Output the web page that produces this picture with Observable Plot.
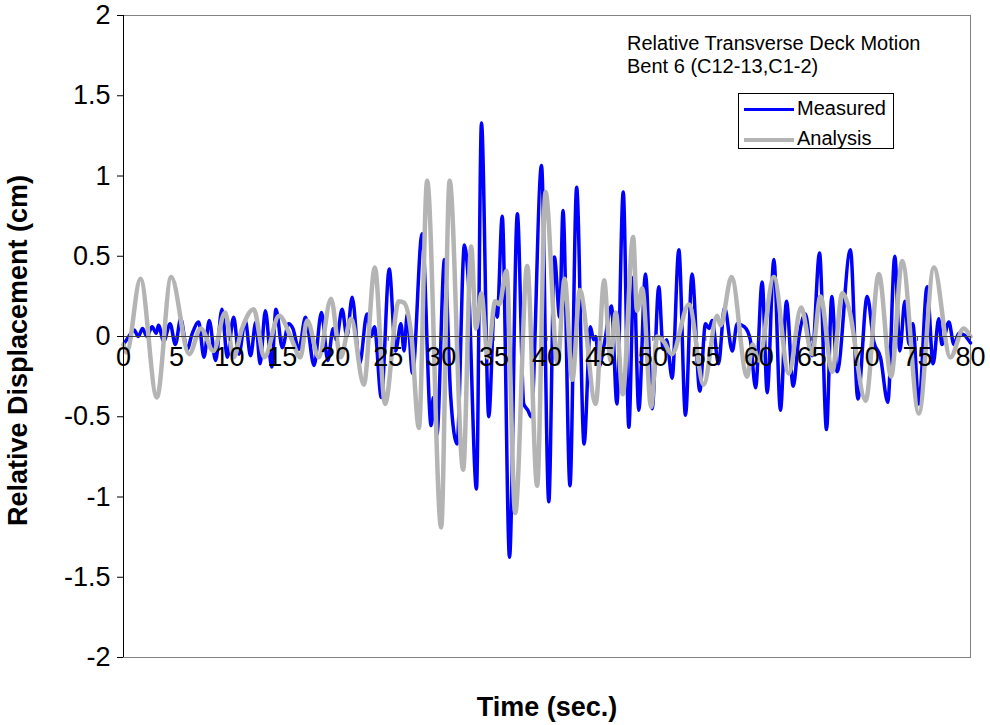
<!DOCTYPE html>
<html>
<head>
<meta charset="utf-8">
<script src="https://cdn.jsdelivr.net/npm/d3@7"></script>
<script src="https://cdn.jsdelivr.net/npm/@observablehq/plot@0.6"></script>
<style>
  html, body { margin: 0; padding: 0; background: #fff; }
  #wrap { position: relative; width: 990px; height: 725px; font-family: "Liberation Sans", Arial, sans-serif; }
  #title { position: absolute; left: 627px; top: 32px; font-size: 20px; line-height: 23px; color: #000; }
  #legend { position: absolute; left: 738px; top: 93px; width: 156px; height: 56px; border: 1px solid #000; background: #fff; box-sizing: border-box; }
  .li { position: absolute; left: 0; height: 26px; width: 154px; font-size: 20px; }
  .sw { position: absolute; left: 5px; width: 50px; top: 12px; }
  .lt { position: absolute; left: 58px; top: 1px; }
</style>
</head>
<body>
<div id="wrap">
  <div id="chart"></div>
  <div id="title">Relative Transverse Deck Motion<br>Bent 6 (C12-13,C1-2)</div>
  <div id="legend">
    <div class="li" style="top:2px"><div class="sw" style="border-top:3px solid #0000ff"></div><div class="lt">Measured</div></div>
    <div class="li" style="top:32px"><div class="sw" style="border-top:4px solid #b4b4b4"></div><div class="lt">Analysis</div></div>
  </div>
</div>
<script>
// Time (sec.) and relative displacement (cm) (peaks / troughs)
const measuredT = [0,0.5,1.0,1.4,1.8,2.2,2.7,3.1,3.3,3.8,4.4,4.9,5.4,6.0,6.5,7.1,7.6,8.1,8.7,9.3,9.8,10.4,10.9,11.5,12.0,12.5,12.9,13.4,14.0,14.4,15.0,15.6,16.0,16.56,17.19,18.0,18.7,19.3,19.8,20.1,20.65,21.1,21.6,22.3,23.0,23.4,23.7,24.35,25.1,25.7,26.2,26.5,26.8,27.3,28.2,29.06,29.25,29.6,30.32,30.9,31.5,32.2,32.55,33.34,33.81,34.5,35.05,35.3,35.77,36.46,37.2,37.8,38.2,38.5,39.48,40.17,40.7,41.2,41.51,42.17,42.8,43.5,44.1,44.4,44.6,44.9,45.4,46.09,46.6,47.2,47.73,48.2,48.67,49.3,49.93,50.56,50.97,51.3,51.82,52.45,53.08,53.7,54.43,54.97,55.3,55.6,56.2,56.77,57.5,57.96,58.65,59.2,59.7,60.32,60.8,61.43,62.05,62.62,63.25,63.8,64.4,65.04,65.74,66.4,66.9,67.4,68.66,69.36,70.24,70.86,71.5,72.19,72.85,73.33,73.8,74.2,74.55,75.12,75.9,76.47,77.0,77.3,77.96,78.43,78.9,79.4,80];
const measuredV = [-0.05,0.0,0.04,0.0,0.05,0.0,0.06,0.02,0.07,-0.03,0.08,-0.05,0.11,-0.08,0.02,0.09,-0.13,0.1,-0.15,0.17,-0.13,0.12,-0.11,0.1,-0.12,0.09,-0.17,0.16,-0.19,0.17,-0.07,0.08,0.05,-0.08,0.12,-0.18,0.15,-0.15,0.05,-0.02,0.17,0.0,0.245,-0.17,0.14,0.0,0.06,-0.38,0.42,-0.09,0.08,-0.09,0.14,-0.23,0.64,-0.555,-0.38,-0.61,0.48,-0.37,-0.67,0.57,0.37,-0.95,1.33,-0.5,0.2,0.12,0.75,-1.375,0.765,-0.42,-0.46,-0.5,1.066,-1.03,0.495,0.12,0.785,-0.93,0.93,-0.67,0.06,-0.02,0.0,-0.19,-0.05,0.19,-0.42,0.9,-0.565,0.37,-0.46,0.39,-0.45,0.31,-0.08,-0.02,-0.26,0.54,-0.49,0.39,-0.34,0.08,0.05,0.1,-0.17,0.18,-0.09,0.08,0.06,-0.02,-0.32,0.34,-0.35,0.48,-0.46,0.22,-0.31,0.0,0.14,-0.12,0.52,-0.58,0.25,-0.22,0.54,-0.39,0.25,-0.03,-0.13,-0.41,0.5,-0.09,0.22,-0.05,0.08,-0.42,0.31,-0.17,0.11,-0.05,0.09,-0.05,0.02,0.01,-0.04];

const analysisT = [0,0.3,1.6,3.15,4.5,6.2,7.3,8.5,9.6,10.4,11.2,12.3,13.3,14.7,15.9,16.7,17.35,18.45,19.6,20.5,21.5,22.7,23.74,24.7,26.0,26.5,27.2,27.9,28.68,30.0,30.8,32.08,32.84,33.3,33.8,34.4,35.1,35.5,36.17,37.0,38.13,39.07,39.86,41.0,41.66,42.4,43.1,44.6,45.4,46.0,46.5,47.15,48.14,48.5,49.0,49.84,50.4,51.0,51.8,53.4,54.8,56.07,56.4,57.43,58.9,59.4,60.0,61.43,62.84,64.0,65.04,65.83,66.94,67.9,68.5,70.1,71.34,72.5,73.55,75.12,76.54,78.1,79.35,80];
const analysisV = [-0.05,-0.1,0.36,-0.38,0.37,-0.11,0.05,-0.09,0.15,-0.13,0.05,0.17,-0.13,0.13,-0.02,-0.13,0.1,-0.13,0.235,-0.13,0.11,-0.3,0.43,-0.42,0.22,0.21,0.0,-0.57,0.97,-1.19,0.97,-0.83,0.56,0.05,0.27,-0.13,0.22,0.2,0.41,-1.1,0.44,-0.93,0.9,-0.17,0.36,-0.27,0.29,-0.42,0.35,-0.15,0.15,-0.36,0.62,0.16,0.3,-0.44,0.0,-0.03,-0.11,0.2,-0.3,0.13,0.07,0.37,-0.25,-0.05,-0.15,0.37,-0.23,0.18,-0.11,0.25,-0.22,0.27,0.18,-0.4,0.39,-0.25,0.47,-0.48,0.43,-0.13,0.05,0.0];

const xTicks = [0,5,10,15,20,25,30,35,40,45,50,55,60,65,70,75,80];
const yTicks = [-2,-1.5,-1,-0.5,0,0.5,1,1.5,2];

const measured = measuredT.map((t, i) => ({t, v: measuredV[i]}));
const analysis = analysisT.map((t, i) => ({t, v: analysisV[i]}));

const chart = Plot.plot({
  width: 990,
  height: 725,
  marginLeft: 123,
  marginRight: 20,
  marginTop: 15,
  marginBottom: 68,
  style: {fontFamily: "'Liberation Sans', Arial, sans-serif", background: "#fff", color: "#000"},
  x: {domain: [0, 80], axis: null},
  y: {domain: [-2, 2], axis: null},
  marks: [
    Plot.frame({stroke: "#808080"}),
    Plot.line(measured, {x: "t", y: "v", stroke: "#0000ff", strokeWidth: 3.5, curve: "monotone-x"}),
    Plot.line(analysis, {x: "t", y: "v", stroke: "#b4b4b4", strokeWidth: 4.5, curve: "monotone-x"}),
    Plot.ruleY([0], {stroke: "#404040", strokeWidth: 1}),
    Plot.ruleX(xTicks, {x: d => d, y1: 0, y2: -0.03, stroke: "#404040", strokeWidth: 1}),
    Plot.text(xTicks, {x: d => d, y: 0, dy: 21, text: d => String(d), fontSize: 27, fill: "#000"}),
    Plot.axisY(yTicks, {tickSize: 6, tickPadding: 7, tickFormat: d => String(d), fontSize: 27, label: null, stroke: "#000"}),
    Plot.ruleX([0], {stroke: "#000", strokeWidth: 1}),
    Plot.text(["Relative Displacement (cm)"], {frameAnchor: "left", textAnchor: "middle", dx: -105, dy: 14, rotate: -90, fontSize: 27, fontWeight: "bold", fill: "#000"}),
    Plot.text(["Time (sec.)"], {frameAnchor: "bottom", textAnchor: "middle", dy: 58, fontSize: 27, fontWeight: "bold", fill: "#000"})
  ]
});
document.getElementById("chart").appendChild(chart);
</script>
</body>
</html>
